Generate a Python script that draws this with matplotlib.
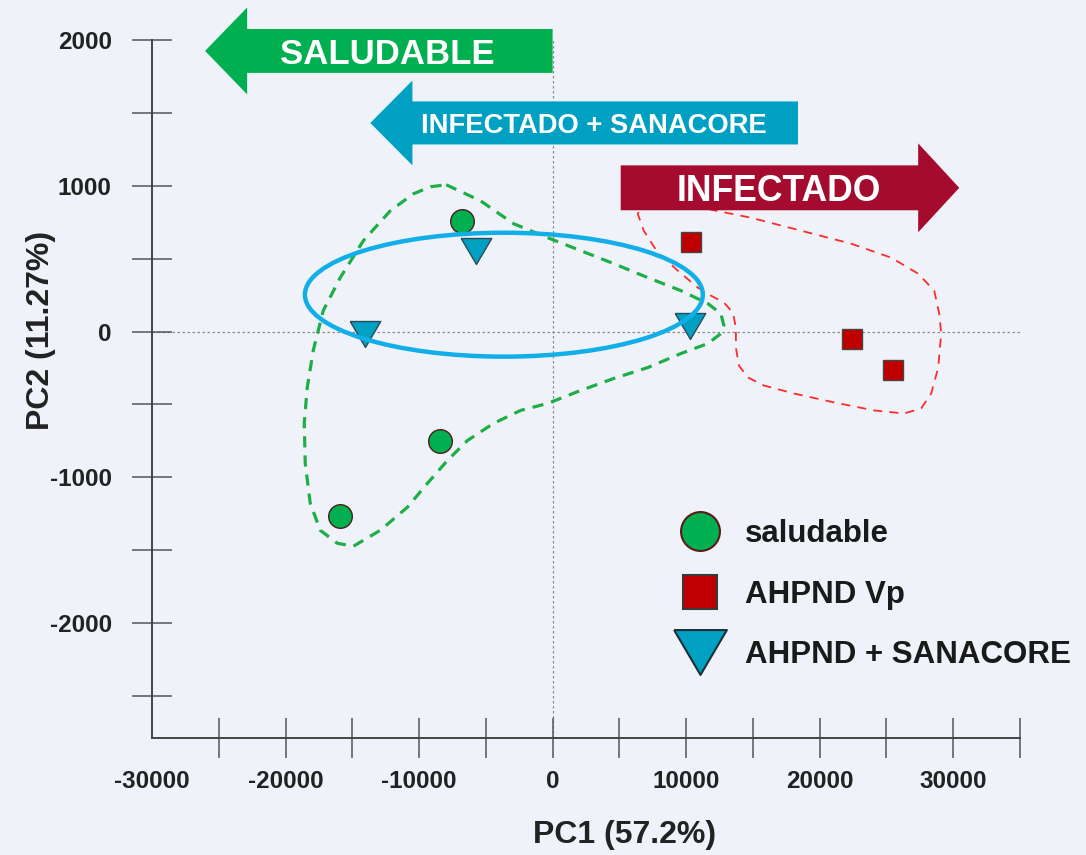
import numpy as np
import matplotlib.pyplot as plt
from matplotlib.patches import Ellipse, FancyArrow
from matplotlib.lines import Line2D
from matplotlib.ticker import FixedLocator, NullFormatter

# ============================================================
# Datos
# ============================================================

saludable_pc1 = [-6750, -8400, -15950]
saludable_pc2 = [760, -750, -1265]

ahpnd_pc1 = [10400, 22400, 25500]
ahpnd_pc2 = [615, -50, -265]

sanacore_pc1 = [-5700, -14050, 10300]
sanacore_pc2 = [550, -15, 40]

# contorno del grupo saludable (línea verde discontinua)
contorno_verde_pc1 = [
    -7970, -5400, -2925, -375, 2100, 4575, 7125, 9600, 11625, 12600,
    12825, 12600, 11625, 9600, 7125, 4575, 2100, -375, -2400, -4425,
    -6375, -7875, -9375, -10875, -12900, -14925, -16125, -17400, -18150,
    -18525, -18600, -18375, -17925, -17175, -15900, -14175, -12150,
    -10425, -9150, -7970,
]
contorno_verde_pc2 = [
    1007, 897, 740, 644, 555, 466, 370, 281, 192, 123,
    41, -14, -82, -151, -247, -322, -404, -493, -541, -630,
    -747, -884, -1041, -1205, -1363, -1473, -1452, -1363, -1178,
    -904, -630, -384, -130, 144, 370, 623, 829,
    945, 993, 1007,
]

# contorno del grupo infectado (línea roja discontinua)
contorno_rojo_pc1 = [
    6975, 9600, 11850, 14850, 18600, 22350, 25350, 27375, 28575, 28950,
    29100, 28875, 28350, 27600, 26325, 24075, 21075, 18075, 15825, 14625,
    13950, 13725, 13725, 13500, 12825, 11850, 10875, 9375, 7875, 6825,
    6375, 6975,
]
contorno_rojo_pc2 = [
    911, 918, 836, 781, 692, 603, 507, 397, 281, 123,
    -14, -247, -425, -527, -562, -541, -486, -425, -370, -315,
    -233, -110, 27, 130, 199, 247, 301, 418, 541, 692,
    808, 911,
]

# elipse del grupo infectado + sanacore
elipse_centro = (-3650, 253)
elipse_ancho = 29800
elipse_alto = 850

# flechas: (inicio, punta, y, texto, x del texto)
flechas = [
    (0, -26025, 1925, "SALUDABLE", -12375),
    (18375, -13650, 1431, "INFECTADO + SANACORE", 3075),
    (5100, 30450, 986, "INFECTADO", 16950),
]

# ============================================================
# Estilo
# ============================================================

COLOR_FONDO = "#eff3f9"
VERDE = "#00b050"
AZUL = "#00a0c3"
ROJO_OSCURO = "#a50a2f"
ROJO = "#c00000"
CELESTE = "#12aee8"

plt.rcParams["font.family"] = ["Liberation Sans", "DejaVu Sans"]
plt.rcParams["font.weight"] = "bold"
plt.rcParams["axes.unicode_minus"] = False

fig = plt.figure(figsize=(10.86, 8.55), dpi=100, facecolor=COLOR_FONDO)
ax = fig.add_axes([152 / 1086, 1 - 738 / 855, 868 / 1086, 698 / 855])
ax.set_facecolor(COLOR_FONDO)

ax.set_xlim(-30000, 35000)
ax.set_ylim(-2788, 2000)

# líneas de referencia en cero
ax.axhline(0, color="#8a8a8a", lw=0.9, ls=(0, (2, 2)), zorder=1)
ax.axvline(0, color="#8a8a8a", lw=0.9, ls=(0, (2, 2)), zorder=1)

# contornos
ax.plot(contorno_verde_pc1, contorno_verde_pc2, color="#1fae45", lw=2.3,
        ls=(0, (3.5, 2.5)), zorder=2)
ax.plot(contorno_rojo_pc1, contorno_rojo_pc2, color="#ff2a2a", lw=1.3,
        ls=(0, (5, 4)), zorder=2)

# puntos
triangulo = [(-1, 0.85), (1, 0.85), (0, -0.85), (-1, 0.85)]

ax.plot(saludable_pc1, saludable_pc2, ls="none", marker="o",
        markersize=17, markerfacecolor=VERDE, markeredgecolor="#4b1e1e",
        markeredgewidth=1.0, zorder=4)
ax.plot(ahpnd_pc1, ahpnd_pc2, ls="none", marker="s",
        markersize=15, markerfacecolor=ROJO, markeredgecolor="#454545",
        markeredgewidth=1.0, zorder=4)
ax.plot(sanacore_pc1, sanacore_pc2, ls="none", marker=triangulo,
        markersize=22, markerfacecolor=AZUL, markeredgecolor="#2b4b5a",
        markeredgewidth=1.0, zorder=4)

elipse = Ellipse(elipse_centro, elipse_ancho, elipse_alto, fill=False,
                 edgecolor=CELESTE, lw=3.2, zorder=5)
ax.add_patch(elipse)

# flechas con texto
colores_flechas = [VERDE, AZUL, ROJO_OSCURO]
tamanos_texto = [25, 19.7, 25.6]
cuerpos = [301, 295, 308]
cabezas = [596, 582, 610]
largos_cabeza = [3150, 3150, 3075]

for (x0, x1, y, texto, xt), color, fs, w, hw, hl in zip(
        flechas, colores_flechas, tamanos_texto, cuerpos, cabezas,
        largos_cabeza):
    flecha = FancyArrow(x0, y, x1 - x0, 0, width=w, head_width=hw,
                        head_length=hl, length_includes_head=True,
                        color=color, lw=0, clip_on=False, zorder=6)
    ax.add_patch(flecha)
    ax.text(xt, y, texto, color="white", fontsize=fs,
            fontweight="bold", ha="center", va="center_baseline",
            zorder=7)

# ejes
for lado in ["top", "right"]:
    ax.spines[lado].set_visible(False)
for lado in ["left", "bottom"]:
    ax.spines[lado].set_color("#444444")
    ax.spines[lado].set_linewidth(1.4)

ax.xaxis.set_major_locator(FixedLocator(np.arange(-30000, 30001, 10000)))
ax.xaxis.set_minor_locator(FixedLocator(np.arange(-25000, 35001, 5000)))
ax.yaxis.set_major_locator(FixedLocator(np.arange(-2000, 2001, 1000)))
ax.yaxis.set_minor_locator(FixedLocator(np.arange(-2500, 2001, 500)))
ax.xaxis.remove_overlapping_locs = False
ax.yaxis.remove_overlapping_locs = False
ax.xaxis.set_minor_formatter(NullFormatter())
ax.yaxis.set_minor_formatter(NullFormatter())

ax.tick_params(which="major", length=0, labelsize=17.5, labelcolor="#222222")
ax.tick_params(axis="x", which="major", pad=23)
ax.tick_params(axis="y", which="major", pad=29)
ax.tick_params(which="minor", direction="inout", length=29, width=1.1,
               color="#555555")

ax.set_xlabel("PC1 (57.2%)", fontsize=23, fontweight="bold",
              color="#222222")
ax.set_ylabel("PC2 (11.27%)", fontsize=23, fontweight="bold",
              color="#222222")
ax.xaxis.set_label_coords((625 - 152) / 868, -(820 - 738) / 698)
ax.yaxis.set_label_coords(-(152 - 56) / 868, (738 - 330) / 698)

# leyenda
manijas = [
    Line2D([], [], ls="none", marker="o", markersize=28,
           markerfacecolor=VERDE, markeredgecolor="#5a1a1a",
           markeredgewidth=1.5, label="saludable"),
    Line2D([], [], ls="none", marker="s", markersize=25,
           markerfacecolor=ROJO, markeredgecolor="#3a3a3a",
           markeredgewidth=1.5, label="AHPND Vp"),
    Line2D([], [], ls="none", marker=triangulo, markersize=38,
           markerfacecolor=AZUL, markeredgecolor="#1e2e36",
           markeredgewidth=1.5, label="AHPND + SANACORE"),
]
leyenda = ax.legend(handles=manijas, loc="upper left",
                    bbox_to_anchor=(681 / 1086, 1 - 519 / 855),
                    bbox_transform=fig.transFigure, frameon=False,
                    borderpad=0, borderaxespad=0, fontsize=22.5,
                    handlelength=1.2, handletextpad=0.85,
                    labelspacing=0.98)
for t in leyenda.get_texts():
    t.set_color("#1a1a1a")
    t.set_fontweight("bold")

fig.savefig("out.png", dpi=100, facecolor=COLOR_FONDO)
